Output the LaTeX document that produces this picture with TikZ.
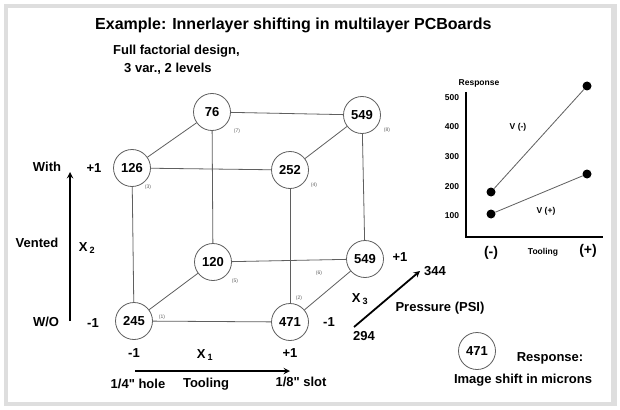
\documentclass[tikz,border=0pt]{standalone}
\usepackage{fontspec}
\setmainfont{Liberation Sans}[Ligatures=TeXOff]
\usetikzlibrary{arrows,shapes,positioning}
\definecolor{pcgray}{RGB}{95,95,95}
\definecolor{pcframe}{RGB}{222,222,222}
\tikzstyle{arrow} = [line width=1.8pt,->,>=stealth,color=black]
\tikzstyle{edge} = [draw=pcgray, line width=0.8pt]
\tikzstyle{response} = [circle, draw=pcgray, fill=white, line width=0.8pt, minimum size=37pt, inner sep=0pt, font=\bfseries\fontsize{13}{13}\selectfont]
\tikzstyle{run} = [font=\fontsize{5}{5}\selectfont, text=pcgray]
\tikzstyle{lbl} = [font=\bfseries\fontsize{13}{13}\selectfont]
\tikzstyle{small} = [font=\bfseries\fontsize{8.5}{8.5}\selectfont]
\tikzstyle{dot} = [circle, fill=black, minimum size=9pt, inner sep=0pt]

\begin{document}
\begin{tikzpicture}[x=1pt,y=-1pt]
\useasboundingbox (0,0) rectangle (620,409);
% Frame
\fill[pcframe] (4,4) rectangle (617,406);
\fill[white] (8,8) rectangle (611,402);

% Titles
\node (title) at (95,25) [anchor=west, inner sep=0pt, font=\bfseries\fontsize{16}{16}\selectfont] {Example: Innerlayer shifting in multilayer PCBoards};
\node (design) at (113,51) [lbl, anchor=west, inner sep=0pt] {Full factorial design,};
\node (levels) at (124,69) [lbl, anchor=west, inner sep=0pt] {3 var., 2 levels};

% Cube nodes
\node (r7) at (212,112) [response] {76};
\node (r8) at (362,115) [response] {549};
\node (r3) at (132,168) [response] {126};
\node (r4) at (290,170) [response] {252};
\node (r5) at (213,262) [response] {120};
\node (r6) at (365,259) [response] {549};
\node (r1) at (134,321) [response] {245};
\node (r2) at (290,322) [response] {471};

% Run numbers
\node at (237,131) [run] {(7)};
\node at (387,130) [run] {(8)};
\node at (148,187) [run] {(3)};
\node at (314,185) [run] {(4)};
\node at (235,281) [run] {(5)};
\node at (319,273) [run] {(6)};
\node at (299,298) [run] {(2)};
\node at (162,317) [run] {(1)};

% Cube edges
\draw[edge] (r3) -- (r7);
\draw[edge] (r3) -- (r4);
\draw[edge] (r7) -- (r8);
\draw[edge] (r8) -- (r4);
\draw[edge] (r7) -- (r5);
\draw[edge] (r3) -- (r1);
\draw[edge] (r4) -- (r2);
\draw[edge] (r8) -- (r6);
\draw[edge] (r5) -- (r6);
\draw[edge] (r5) -- (r1);
\draw[edge] (r1) -- (r2);
\draw[edge] (r2) -- (r6);

% X2 axis
\node (with) at (47,167) [lbl] {With};
\node (x2hi) at (94,168) [lbl] {+1};
\node (vented) at (37,243) [lbl] {Vented};
\node (x2) at (87,248) [lbl] {X\,\textsubscript{2}};
\node (wo) at (46,322) [lbl] {W/O};
\node (x2lo) at (93,323) [lbl] {-1};
\coordinate (x2a) at (70,321);
\coordinate (x2b) at (70,172);
\draw[arrow] (x2a) -- (x2b);

% X1 axis
\node (x1lo) at (134,353) [lbl] {-1};
\node (x1) at (205,355) [lbl] {X\,\textsubscript{1}};
\node (x1hi) at (290,353) [lbl] {+1};
\node (hole) at (138,384) [lbl] {1/4" hole};
\node (tool) at (206,384) [lbl] {Tooling};
\node (slot) at (301,382) [lbl] {1/8" slot};
\coordinate (x1a) at (135,371);
\coordinate (x1b) at (290,371);
\draw[arrow] (x1a) -- (x1b);

% X3 axis
\node (x3lo) at (329,322) [lbl] {-1};
\node (x3hi) at (400,257) [lbl] {+1};
\node (x3) at (360,299) [lbl] {X\,\textsubscript{3}};
\node (p294) at (364,336) [lbl] {294};
\node (p344) at (435,271) [lbl] {344};
\node (press) at (440,308) [lbl] {Pressure (PSI)};
\coordinate (x3a) at (354,327);
\coordinate (x3b) at (420,271);
\draw[arrow] (x3a) -- (x3b);

% Legend
\node (key) at (477,351) [response] {471};
\node (resp) at (550,358) [lbl] {Response:};
\node (shift) at (523,380) [lbl] {Image shift in microns};

% Interaction plot
\coordinate (ytop) at (466,92);
\coordinate (orig) at (466,237);
\coordinate (xend) at (603,237);
\draw[line width=1.3pt] (ytop) -- (orig) -- (xend);
\node (ylab) at (479,83) [small] {Response};
\node at (452,98) [small] {500};
\node at (452,127) [small] {400};
\node at (452,157) [small] {300};
\node at (452,187) [small] {200};
\node at (452,216) [small] {100};
\node (vm1) at (491,192) [dot] {};
\node (vm2) at (587,86) [dot] {};
\node (vp1) at (491,214) [dot] {};
\node (vp2) at (587,174) [dot] {};
\draw[edge] (vm1) -- (vm2);
\draw[edge] (vp1) -- (vp2);
\node at (518,127) [small] {V (-)};
\node at (546,211) [small] {V (+)};
\node (lo) at (491,253) [font=\bfseries\fontsize{14}{14}\selectfont] {(-)};
\node (tl) at (543,252) [small] {Tooling};
\node (hi) at (588,251) [font=\bfseries\fontsize{14}{14}\selectfont] {(+)};
\end{tikzpicture}
\end{document}
